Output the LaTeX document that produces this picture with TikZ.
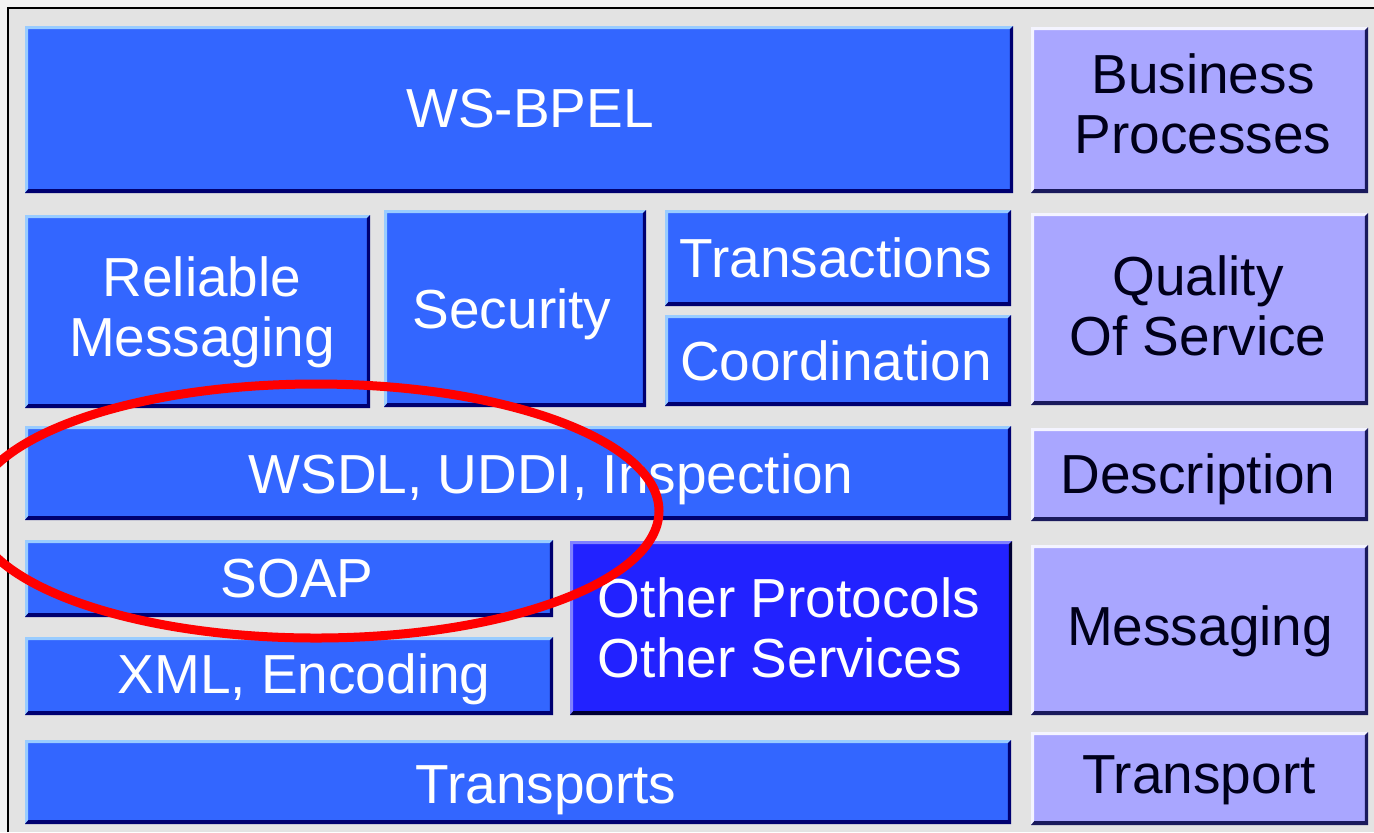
\documentclass[tikz,border=0pt]{standalone}
\usepackage{fontspec}
\setmainfont{Liberation Sans}
\usetikzlibrary{fit}

\definecolor{paper}{HTML}{F3F3F3}
\definecolor{panel}{HTML}{E3E3E3}
\definecolor{stack}{HTML}{3366FF}
\definecolor{stacklt}{HTML}{99CCFF}
\definecolor{stackdk}{HTML}{000070}
\definecolor{other}{HTML}{2222FF}
\definecolor{otherlt}{HTML}{8080FF}
\definecolor{otherdk}{HTML}{000033}
\definecolor{side}{HTML}{A9A6FF}
\definecolor{sidelt}{HTML}{F4F4FF}
\definecolor{sidedk}{HTML}{1A1A5C}
\definecolor{sidetext}{HTML}{00001A}
\definecolor{ring}{HTML}{FF0000}

\tikzset{
  % raised tile: light top/left edge, dark bottom/right edge
  tile/.style n args={3}{
    rectangle, inner sep=0pt, fill=#1,
    path picture={
      \coordinate (sw) at (path picture bounding box.south west);
      \coordinate (ne) at (path picture bounding box.north east);
      \coordinate (nw) at (path picture bounding box.north west);
      \coordinate (se) at (path picture bounding box.south east);
      \fill[#2] (sw) -- (nw) -- (ne) -- ([shift={(-1.6pt,-1.6pt)}]ne)
        -- ([shift={(1.6pt,-1.6pt)}]nw) -- ([shift={(1.6pt,1.9pt)}]sw) -- cycle;
      \fill[#3] (sw) -- (se) -- (ne) -- ([shift={(-1.6pt,-1.6pt)}]ne)
        -- ([shift={(-1.6pt,1.9pt)}]se) -- ([shift={(1.6pt,1.9pt)}]sw) -- cycle;
    }},
  layer/.style={tile={stack}{stacklt}{stackdk}},
  otherlayer/.style={tile={other}{otherlt}{otherdk}},
  sidelayer/.style={tile={side}{sidelt}{sidedk}},
  % captions are placed by the baseline of their last line
  caption/.style={inner sep=0pt, anchor=base, align=center,
    font=\fontsize{27.5}{30}\selectfont},
  light/.style={caption, text=white},
  dark/.style={caption, text=sidetext},
}

\begin{document}
\begin{tikzpicture}[x=0.5pt, y=-0.5pt]
  \useasboundingbox (0,0) rectangle (1374,832);
  % page and framed panel
  \fill[paper] (0,0) rectangle (1374,832);
  \fill[panel] (8,8) rectangle (1374,832);
  \draw[line width=1pt, black] (8,832) -- (8,8) -- (1374,8);

  % main stack
  \node[layer, fit={(25,26) (1013,193)}] (bpel) {};
  \node[layer, fit={(25,215) (370,408)}] (rm) {};
  \node[layer, fit={(384,210) (646,407)}] (sec) {};
  \node[layer, fit={(665,210) (1011,306)}] (tx) {};
  \node[layer, fit={(665,315) (1011,406)}] (coord) {};
  \node[layer, fit={(25,426) (1011,520)}] (wsdl) {};
  \node[layer, fit={(25,540) (553,617)}] (soap) {};
  \node[layer, fit={(25,637) (553,715)}] (xml) {};
  \node[otherlayer, fit={(570,541) (1012,715)}] (other) {};
  \node[layer, fit={(25,740) (1011,824)}] (transports) {};

  % category column
  \node[sidelayer, fit={(1031,27) (1368,193)}] (bp) {};
  \node[sidelayer, fit={(1031,213) (1368,405)}] (qos) {};
  \node[sidelayer, fit={(1031,428) (1368,521)}] (desc) {};
  \node[sidelayer, fit={(1031,545) (1368,715)}] (msg) {};
  \node[sidelayer, fit={(1031,732) (1368,825)}] (transport) {};

  % captions
  \node[light] (bpel-t) at (530,127) {WS-BPEL};
  \node[light] (rm-t) at (202,356) {Reliable\\Messaging};
  \node[light] (sec-t) at (512,328) {Security};
  \node[light] (tx-t) at (836,277) {Transactions};
  \node[light] (coord-t) at (836,380) {Coordination};
  \node[light] (wsdl-t) at (551,493) {WSDL, UDDI, Inspection};
  \node[light] (soap-t) at (297,597) {SOAP};
  \node[light] (xml-t) at (304,693) {XML, Encoding};
  \node[light, align=left] (other-t) at (789,677) {Other Protocols\\Other Services};
  \node[light] (transports-t) at (546,803) {Transports};

  \node[dark] (bp-t) at (1203,153) {Business\\Processes};
  \node[dark] (qos-t) at (1198,355) {Quality\\Of Service};
  \node[dark] (desc-t) at (1198,493) {Description};
  \node[dark] (msg-t) at (1200,645) {Messaging};
  \node[dark] (transport-t) at (1199,793) {Transport};

  % highlight ring around description and SOAP layers
  \draw[ring, line width=4.5pt] (316,511) ellipse [x radius=343, y radius=127];
\end{tikzpicture}
\end{document}
